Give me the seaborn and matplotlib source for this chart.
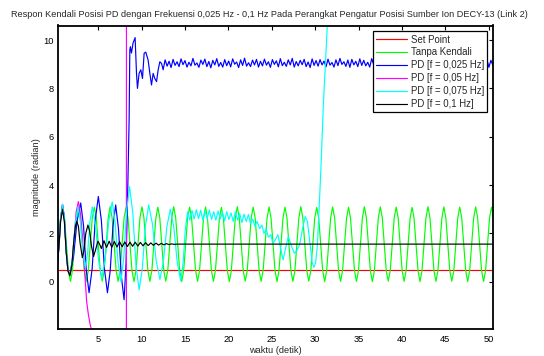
import numpy as np
import pandas as pd
import matplotlib
matplotlib.use("Agg")
import matplotlib.pyplot as plt
import seaborn as sns

title = "Respon Kendali Posisi PD dengan Frekuensi 0,025 Hz - 0,1 Hz Pada Perangkat Pengatur Posisi Sumber Ion DECY-13 (Link 2)"
xlabel = "waktu (detik)"
ylabel = "magnitude (radian)"
labels = ["Set Point", "Tanpa Kendali", "PD [f = 0,025 Hz]", "PD [f = 0,05 Hz]",
          "PD [f = 0,075 Hz]", "PD [f = 0,1 Hz]"]
colors = ["#ff0000", "#00ff00", "#0000ff", "#ff00ff", "#00ffff", "#000000"]
xticks = [5, 10, 15, 20, 25, 30, 35, 40, 45, 50]
yticks = [0, 2, 4, 6, 8, 10]

# Set point
sp_t = [0.18, 50.6]
sp_v = [0.5, 0.5]

# Tanpa Kendali (uniform sampling step 0.229 s from 0.18 s)
green_t0, green_dt = 0.18, 0.229
green_v = [0.46, 1.55, 2.64,
    3.14, 2.66, 1.55, 0.45, 0.02, 0.46, 1.56, 2.65,
    3.10, 2.64, 1.54, 0.45, 0.01, 0.47, 1.55, 2.64,
    3.09, 2.65, 1.56, 0.46, 0.03, 0.45, 1.54, 2.63,
    3.11, 2.64, 1.55, 0.47, 0.02, 0.46, 1.55, 2.65,
    3.08, 2.63, 1.55, 0.45, 0.01, 0.46, 1.56, 2.64,
    3.10, 2.65, 1.54, 0.46, 0.02, 0.47, 1.55, 2.63,
    3.09, 2.64, 1.55, 0.45, 0.03, 0.46, 1.54, 2.64,
    3.11, 2.65, 1.56, 0.46, 0.01, 0.45, 1.55, 2.65,
    3.09, 2.64, 1.55, 0.47, 0.02, 0.46, 1.56, 2.64,
    3.10, 2.63, 1.54, 0.45, 0.02, 0.47, 1.55, 2.63,
    3.08, 2.64, 1.55, 0.46, 0.01, 0.46, 1.55, 2.65,
    3.11, 2.65, 1.56, 0.45, 0.03, 0.45, 1.54, 2.64,
    3.09, 2.64, 1.55, 0.46, 0.02, 0.46, 1.56, 2.64,
    3.10, 2.63, 1.55, 0.47, 0.01, 0.47, 1.55, 2.63,
    3.09, 2.65, 1.54, 0.45, 0.02, 0.46, 1.55, 2.65,
    3.11, 2.64, 1.56, 0.46, 0.03, 0.45, 1.54, 2.64,
    3.08, 2.64, 1.55, 0.46, 0.01, 0.46, 1.56, 2.64,
    3.10, 2.65, 1.55, 0.45, 0.02, 0.47, 1.55, 2.63,
    3.09, 2.63, 1.54, 0.47, 0.02, 0.46, 1.55, 2.65,
    3.11, 2.64, 1.56, 0.46, 0.01, 0.45, 1.54, 2.64,
    3.10, 2.65, 1.55, 0.45, 0.03, 0.46, 1.56, 2.64,
    3.09, 2.64, 1.55, 0.46, 0.02, 0.47, 1.55, 2.63,
    3.08, 2.63, 1.54, 0.46, 0.01, 0.46, 1.55, 2.65,
    3.11, 2.65, 1.56, 0.47, 0.02, 0.45, 1.54, 2.64,
    3.10, 2.64, 1.55, 0.45, 0.03, 0.46, 1.56, 2.64,
    3.09, 2.64, 1.55, 0.46, 0.01, 0.47, 1.55, 2.63,
    3.10, 2.65, 1.54, 0.46, 0.02, 0.46, 1.55, 2.65,
    3.09, 2.64, 1.55]

# PD 0.025 Hz: transient points, then uniform-sampled steady part
blue_t = [0.18, 0.45, 0.65, 0.87, 1.08, 1.3, 1.5, 1.72, 2.14, 2.55, 2.97, 3.29, 3.61, 3.93,
          4.29, 4.64, 5.0, 5.35, 5.7, 6.05, 6.37, 6.68, 7.0, 7.32, 7.65, 7.97, 8.2, 8.4,
          8.55, 8.63, 8.7, 8.82, 9.0, 9.24, 9.4, 9.51, 9.7, 9.9, 10.09, 10.28, 10.47,
          10.74, 10.94, 11.13, 11.32, 11.51, 11.71, 11.9, 12.09, 12.29, 12.47]
blue_v = [0.4, 1.4, 2.6, 3.2, 2.65, 1.25, 0.45, 0.3, 1.04, 2.52, 3.26, 2.33, 0.48, -0.45,
          0.55, 2.54, 3.53, 2.54, 0.55, -0.45, 0.46, 2.27, 3.18, 2.2, 0.24, -0.74, 0.8, 4.0,
          6.7, 9.59, 9.72, 9.46, 9.87, 10.1, 8.62, 8.0, 8.62, 8.77, 8.41, 9.45, 9.5,
          9.17, 8.62, 8.14, 8.62, 8.41, 8.28, 8.77, 9.1, 9.03, 8.77]
blue_tail_t0, blue_tail_dt = 12.7, 0.229
blue_tail_v = [
    9.18, 8.92, 9.12, 8.86, 9.20, 8.95, 9.10, 8.90, 9.22, 8.98,
    9.15, 8.88, 9.08, 8.93, 9.24, 8.96, 9.05, 8.87, 9.17, 8.99,
    9.21, 8.90, 9.11, 8.85, 9.16, 8.97, 9.23, 8.91, 9.07, 8.88,
    9.19, 8.94, 9.13, 8.89, 9.22, 9.00, 9.09, 8.86, 9.18, 8.95,
    9.25, 8.92, 9.06, 8.90, 9.17, 8.97, 9.20, 8.88, 9.12, 8.93,
    9.21, 8.96, 9.10, 8.87, 9.19, 8.99, 9.14, 8.89, 9.23, 8.94,
    9.08, 8.91, 9.18, 8.97, 9.24, 8.88, 9.11, 8.93, 9.16, 8.98,
    9.20, 8.90, 9.09, 8.86, 9.22, 8.95, 9.15, 8.92, 9.19, 8.97,
    9.13, 8.89, 9.21, 8.96, 9.07, 8.88, 9.18, 8.94, 9.24, 8.99,
    9.10, 8.91, 9.17, 8.87, 9.20, 8.97, 9.12, 8.90, 9.22, 8.95,
    9.16, 8.93, 9.08, 8.88, 9.23, 8.98, 9.14, 8.89, 9.19, 8.96,
    9.21, 8.92, 9.11, 8.86, 9.18, 8.95, 9.25, 8.91, 9.09, 8.94,
    9.17, 8.97, 9.13, 8.88, 9.20, 8.93, 9.10, 8.90, 9.22, 8.98,
    9.15, 8.89, 9.19, 8.96, 9.08, 8.87, 9.21, 8.94, 9.16, 8.92,
    9.24, 8.95, 9.12, 8.90, 9.18, 8.97, 9.09, 8.88, 9.20, 8.93,
    9.14, 8.91, 9.22, 8.96, 9.11, 8.89, 9.19, 8.94, 9.17, 8.98,
    9.13, 8.92, 9.21, 8.87, 9.16, 8.95]

# PD 0.05 Hz (diverges)
mag_t = [0.18, 0.45, 0.65, 0.87, 1.08, 1.3, 1.5, 1.72, 2.0, 2.25, 2.45, 2.7, 2.95, 3.16,
         3.35, 3.5, 3.65, 3.85, 4.05, 4.25, 4.6, 5.5, 8.22, 8.26, 10.0]
mag_v = [0.4, 1.4, 2.6, 3.2, 2.65, 1.25, 0.45, 0.3, 0.9, 2.0, 2.9, 3.32, 2.8, 1.9,
         0.8, 0.0, -0.8, -1.35, -1.75, -2.05, -2.6, -4.0, -40.0, 60.0, 200.0]

# PD 0.075 Hz (diverges later)
cyan_t = [0.18, 0.45, 0.65, 0.87, 1.08, 1.3, 1.5, 1.72, 2.03, 2.34, 2.65, 2.93, 3.22, 3.5,
          3.77, 4.03, 4.3, 4.67, 5.03, 5.4, 5.8, 6.2, 6.6, 6.93, 7.27, 7.6, 7.93, 8.27,
          8.6, 8.97, 9.33, 9.7, 10.07, 10.43, 10.8, 11.23, 11.67, 12.1, 12.5, 12.9, 13.3,
          13.7, 14.1, 14.5, 14.77, 15.03, 15.3, 15.55, 15.8, 16.05, 16.3, 16.55, 16.8,
          17.05, 17.3, 17.55, 17.8, 18.05, 18.3, 18.55, 18.8, 19.05, 19.3, 19.55, 19.8,
          20.05, 20.3, 20.55, 20.8, 21.05, 21.3, 21.55, 21.8, 22.05, 22.3, 22.55, 22.8,
          23.05, 23.3, 23.6, 23.85, 24.1, 24.35, 24.6, 24.9, 25.1, 25.35, 25.7, 26.0, 26.3,
          26.6, 26.9, 27.25, 27.6, 27.9, 28.2, 28.55, 28.85, 29.1, 29.4, 29.65, 29.85,
          30.05, 30.25, 30.45, 30.65, 30.95, 31.33, 31.7]
cyan_v = [0.4, 1.4, 2.6, 3.2, 2.65, 1.25, 0.45, 0.28, 1.0, 2.4, 3.1, 2.48, 1.22, 0.6,
          1.22, 2.48, 3.1, 2.36, 0.89, 0.15, 0.94, 2.51, 3.3, 2.48, 0.83, 0.0, 0.99, 2.96,
          3.94, 2.87, 0.74, -0.33, 0.55, 2.3, 3.18, 2.41, 0.87, 0.1, 0.83, 2.28, 3.0,
          2.26, 0.79, 0.05, 0.76, 2.19, 2.9, 2.55, 2.95, 2.6, 2.98, 2.62, 2.96,
          2.55, 2.92, 2.6, 2.97, 2.58, 2.9, 2.55, 2.93, 2.6, 2.88, 2.52, 2.9,
          2.58, 2.85, 2.5, 2.9, 2.55, 2.82, 2.45, 2.8, 2.5, 2.78, 2.4, 2.6,
          2.3, 2.5, 2.2, 2.35, 2.0, 2.2, 1.85, 1.95, 1.6, 1.7, 1.95, 1.4, 0.91,
          1.4, 1.87, 1.5, 1.18, 1.3, 1.53, 2.2, 2.7, 2.5, 1.6, 0.8, 0.6,
          0.8, 1.5, 3.0, 4.6, 7.38, 10.1, 13.0]

# PD 0.1 Hz
black_t = [0.18, 0.45, 0.65, 0.87, 1.08, 1.3, 1.5, 1.72, 1.95, 2.15, 2.35, 2.52, 2.7, 2.9,
           3.16, 3.35, 3.55, 3.8, 4.0, 4.2, 4.45, 4.7, 4.95, 5.15, 5.35, 5.65, 5.95, 6.25,
           6.55, 6.85, 7.15, 7.45, 7.75, 8.05, 8.35, 8.65, 8.95, 9.25, 9.55, 9.85, 10.15,
           10.45, 10.75, 11.05, 11.35, 11.65, 11.95, 12.25, 12.55, 12.85, 13.15, 13.45,
           13.75, 14.05, 50.6]
black_v = [0.4, 1.4, 2.5, 3.0, 2.5, 1.2, 0.45, 0.25, 0.7, 1.6, 2.3, 2.5, 2.3, 1.6,
           1.0, 1.3, 2.0, 2.35, 2.1, 1.5, 1.05, 1.35, 1.68, 1.55, 1.38, 1.70, 1.42, 1.68,
           1.43, 1.67, 1.44, 1.66, 1.45, 1.65, 1.46, 1.64, 1.47, 1.64, 1.48, 1.63, 1.49,
           1.62, 1.50, 1.61, 1.51, 1.60, 1.52, 1.59, 1.53, 1.58, 1.54, 1.57,
           1.55, 1.56, 1.56]

green_t = green_t0 + green_dt * np.arange(len(green_v))
blue_all_t = list(blue_t) + list(blue_tail_t0 + blue_tail_dt * np.arange(len(blue_tail_v)))
blue_all_v = list(blue_v) + list(blue_tail_v)

series = [(sp_t, sp_v), (green_t, green_v), (blue_all_t, blue_all_v),
          (mag_t, mag_v), (cyan_t, cyan_v), (black_t, black_v)]

sns.set_style("white")
plt.rcParams["font.family"] = ["Liberation Sans", "DejaVu Sans"]

fig = plt.figure(figsize=(5.44, 3.56), dpi=100)
ax = fig.add_axes([58 / 544, 1 - 329 / 356, (493 - 58) / 544, (329 - 25.5) / 356])

for (t, v), lab, col in zip(series, labels, colors):
    df = pd.DataFrame({"t": t, "v": v})
    sns.lineplot(data=df, x="t", y="v", color=col, label=lab, ax=ax,
                 sort=False, estimator=None, linewidth=0.85)

ax.set_xlim(0.35, 50.5)
ax.set_ylim(-1.95, 10.6)
ax.set_xticks(xticks)
ax.set_yticks(yticks)
ax.tick_params(direction="in", length=3, width=0.8, top=True, right=True,
               labelsize=6.7, pad=3, colors="black")
ax.tick_params(axis="x", pad=4)
for sp in ax.spines.values():
    sp.set_linewidth(1.3)
    sp.set_color("black")
ax.set_xlabel(xlabel, fontsize=6.7, labelpad=2)
ax.set_ylabel(ylabel, fontsize=6.7, labelpad=2)
ax.set_title(title, fontsize=6.55, pad=6, x=0.486)

leg = ax.legend(loc="upper right", fontsize=6.9, frameon=True, fancybox=False,
                framealpha=1, edgecolor="black", handlelength=3.2, handletextpad=0.4,
                labelspacing=0.3, borderpad=0.35, borderaxespad=0.6)
leg.get_frame().set_linewidth(0.9)

fig.savefig("out.png", dpi=100)
